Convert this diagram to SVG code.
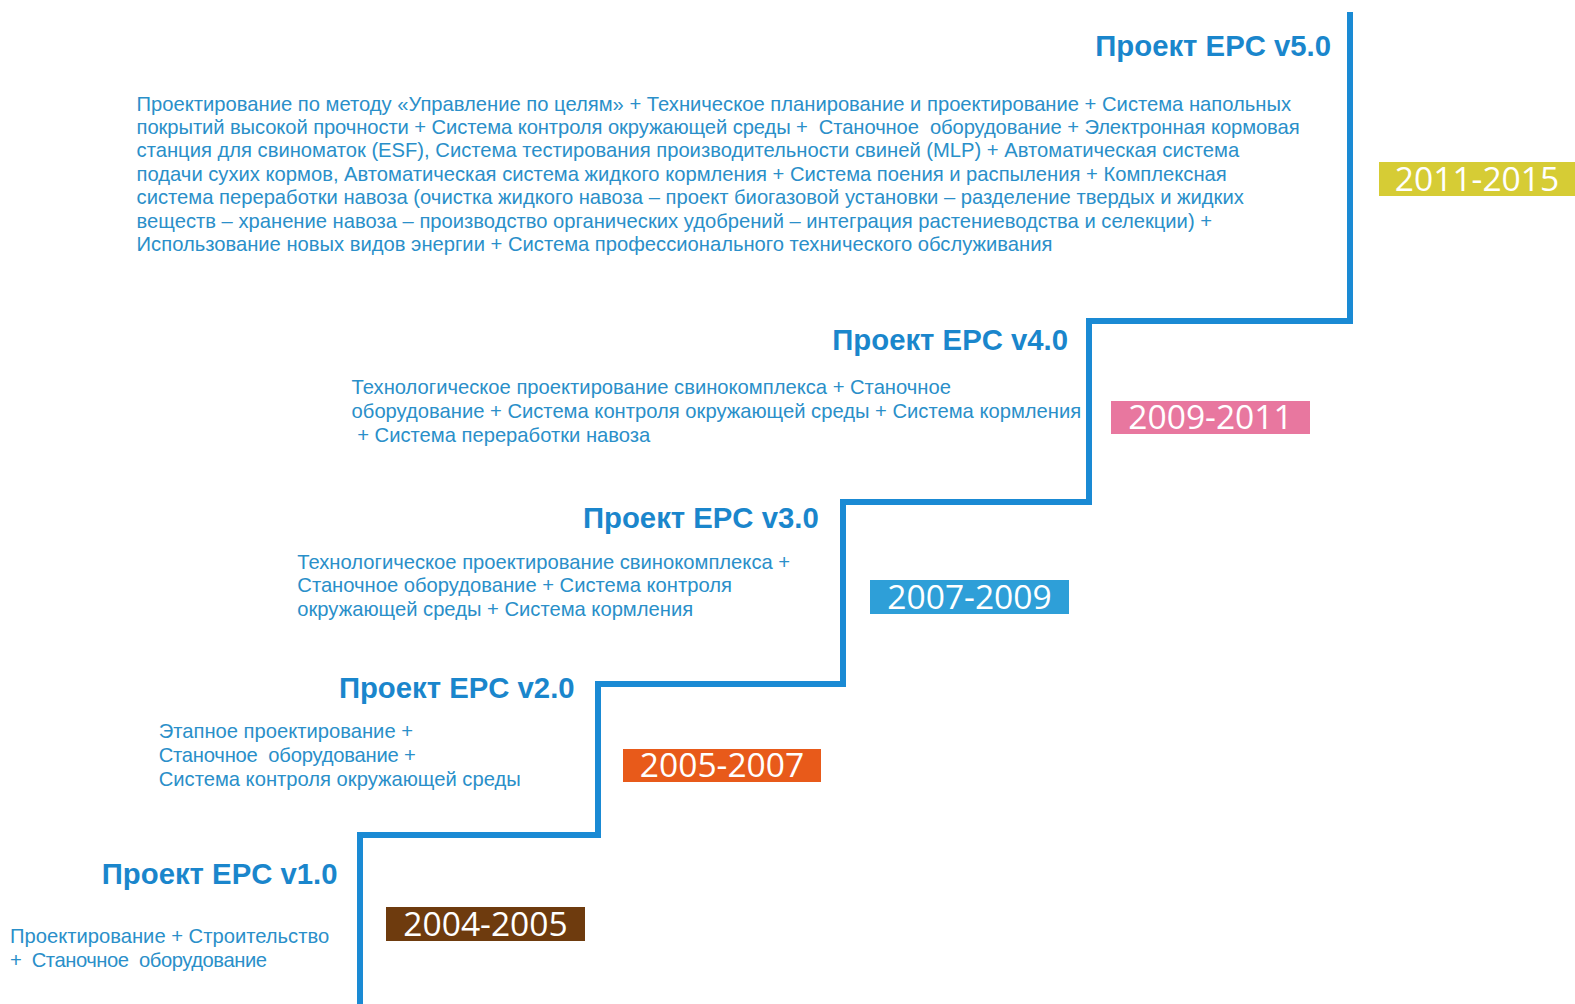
<svg xmlns="http://www.w3.org/2000/svg" width="1575" height="1004" viewBox="0 0 1575 1004">
<style>
.title{font-family:"Liberation Sans",Arial,sans-serif;font-weight:bold;font-size:29.3px;fill:#1a86cc;text-anchor:end}
.body{font-family:"Liberation Sans",Arial,sans-serif;font-size:20.2px;fill:#2a8fc9;white-space:pre}
.year{font-family:"Open Sans",sans-serif;font-size:33.6px;fill:#ffffff;text-anchor:middle}
.step{fill:none;stroke:#1a8ad4;stroke-width:6;stroke-linejoin:miter}
</style>
<rect width="1575" height="1004" fill="#ffffff"/>
<g id="connectors">
<path class="step" d="M360 1004 V835 H598 V684 H843 V502 H1089 V321 H1350 V12"/>
</g>
<g id="v1">
<text class="title" x="337.5" y="884">Проект EPC v1.0</text>
<text class="body" xml:space="preserve"><tspan x="10" y="943">Проектирование + Строительство</tspan><tspan x="10" y="967" textLength="257" lengthAdjust="spacing">+  Станочное  оборудование</tspan></text>
<rect x="386" y="907" width="199" height="34" fill="#6e3b0e"/>
<text class="year" x="485.5" y="936">2004-2005</text>
</g>
<g id="v2">
<text class="title" x="574.6" y="698">Проект EPC v2.0</text>
<text class="body" xml:space="preserve"><tspan x="158.7" y="738.3">Этапное проектирование +</tspan><tspan x="158.7" y="762.4" textLength="257" lengthAdjust="spacing">Станочное  оборудование +</tspan><tspan x="158.7" y="785.5">Система контроля окружающей среды</tspan></text>
<rect x="623" y="749" width="198" height="33" fill="#e85a1a"/>
<text class="year" x="722" y="777">2005-2007</text>
</g>
<g id="v3">
<text class="title" x="818.7" y="528">Проект EPC v3.0</text>
<text class="body" xml:space="preserve"><tspan x="297.3" y="568.5">Технологическое проектирование свинокомплекса +</tspan><tspan x="297.3" y="591.6">Станочное оборудование + Система контроля</tspan><tspan x="297.3" y="615.7">окружающей среды + Система кормления</tspan></text>
<rect x="870" y="580" width="199" height="34" fill="#2e9fd8"/>
<text class="year" x="969.5" y="609">2007-2009</text>
</g>
<g id="v4">
<text class="title" x="1068" y="350">Проект EPC v4.0</text>
<text class="body" xml:space="preserve"><tspan x="351.6" y="393.7">Технологическое проектирование свинокомплекса + Станочное</tspan><tspan x="351.6" y="417.8">оборудование + Система контроля окружающей среды + Система кормления</tspan><tspan x="351.6" y="442"> + Система переработки навоза</tspan></text>
<rect x="1111" y="401" width="199" height="33" fill="#e8779f"/>
<text class="year" x="1210.5" y="429">2009-2011</text>
</g>
<g id="v5">
<text class="title" x="1331" y="56">Проект EPC v5.0</text>
<text class="body" xml:space="preserve"><tspan x="136.6" y="110.5">Проектирование по методу «Управление по целям» + Техническое планирование и проектирование + Система напольных</tspan><tspan x="136.6" y="133.9" textLength="1163" lengthAdjust="spacing">покрытий высокой прочности + Система контроля окружающей среды +  Станочное  оборудование + Электронная кормовая</tspan><tspan x="136.6" y="157.3">станция для свиноматок (ESF), Система тестирования производительности свиней (MLP) + Автоматическая система</tspan><tspan x="136.6" y="180.7">подачи сухих кормов, Автоматическая система жидкого кормления + Система поения и распыления + Комплексная</tspan><tspan x="136.6" y="204.1">система переработки навоза (очистка жидкого навоза – проект биогазовой установки – разделение твердых и жидких</tspan><tspan x="136.6" y="227.5">веществ – хранение навоза – производство органических удобрений – интеграция растениеводства и селекции) +</tspan><tspan x="136.6" y="250.9">Использование новых видов энергии + Система профессионального технического обслуживания</tspan></text>
<rect x="1379" y="162" width="196" height="34" fill="#d6cc35"/>
<text class="year" x="1477" y="191">2011-2015</text>
</g>
</svg>
